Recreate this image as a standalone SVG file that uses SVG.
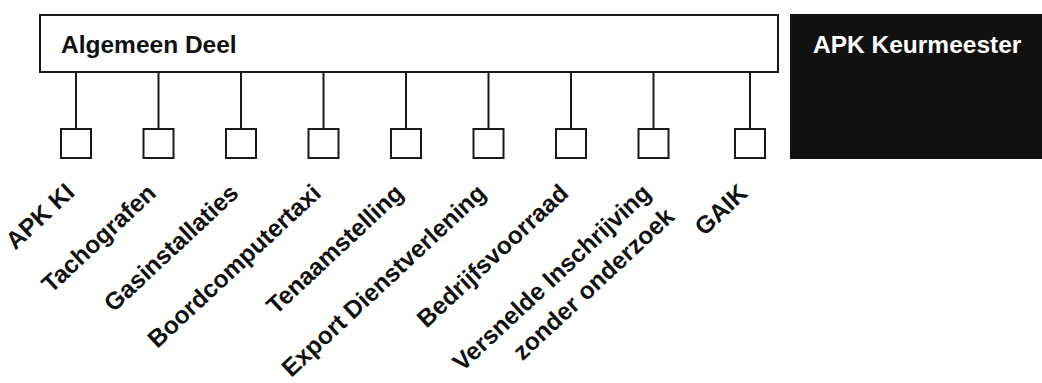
<svg xmlns="http://www.w3.org/2000/svg" width="1042" height="383" viewBox="0 0 1042 383">
<style>
.box{fill:#fff;stroke:#1a1a1a;stroke-width:2}
.dark{fill:#111;stroke:#111;stroke-width:2}
.conn line{stroke:#1a1a1a;stroke-width:2}
.sq{fill:#fff;stroke:#1a1a1a;stroke-width:2}
.hd{font-family:"Liberation Sans",Arial,sans-serif;font-weight:bold;font-size:24.5px}
.lb{font-family:"Liberation Sans",Arial,sans-serif;font-weight:bold;font-size:24.5px;fill:#111;text-anchor:end}
</style>
<rect width="1042" height="383" fill="#fff"/>
<g id="algemeen-deel">
<rect class="box" x="40" y="15" width="738" height="57"/>
<text class="hd" x="61" y="53" fill="#111">Algemeen Deel</text>
</g>
<g id="apk-keurmeester">
<rect class="dark" x="791" y="15" width="252" height="143"/>
<text class="hd" x="813" y="53" fill="#fff">APK Keurmeester</text>
</g>
<g id="connectors" class="conn">
<line x1="76" y1="72" x2="76" y2="129"/>
<line x1="158.5" y1="72" x2="158.5" y2="129"/>
<line x1="241" y1="72" x2="241" y2="129"/>
<line x1="323.5" y1="72" x2="323.5" y2="129"/>
<line x1="406" y1="72" x2="406" y2="129"/>
<line x1="488.5" y1="72" x2="488.5" y2="129"/>
<line x1="571" y1="72" x2="571" y2="129"/>
<line x1="653.5" y1="72" x2="653.5" y2="129"/>
<line x1="750" y1="72" x2="750" y2="129"/>
</g>
<g id="apk-ki"><rect class="sq" x="61" y="129" width="30" height="29"/><text class="lb" transform="translate(76,194) rotate(-43)">APK KI</text></g>
<g id="tachografen"><rect class="sq" x="143.5" y="129" width="30" height="29"/><text class="lb" transform="translate(157.5,195) rotate(-43)">Tachografen</text></g>
<g id="gasinstallaties"><rect class="sq" x="226" y="129" width="30" height="29"/><text class="lb" transform="translate(240,195) rotate(-43)">Gasinstallaties</text></g>
<g id="boordcomputertaxi"><rect class="sq" x="308.5" y="129" width="30" height="29"/><text class="lb" transform="translate(322.5,195) rotate(-43)">Boordcomputertaxi</text></g>
<g id="tenaamstelling"><rect class="sq" x="391" y="129" width="30" height="29"/><text class="lb" transform="translate(405,195) rotate(-43)">Tenaamstelling</text></g>
<g id="export-dienstverlening"><rect class="sq" x="473.5" y="129" width="30" height="29"/><text class="lb" transform="translate(487.5,195) rotate(-43)">Export Dienstverlening</text></g>
<g id="bedrijfsvoorraad"><rect class="sq" x="556" y="129" width="30" height="29"/><text class="lb" transform="translate(570,195) rotate(-43)">Bedrijfsvoorraad</text></g>
<g id="versnelde-inschrijving"><rect class="sq" x="638.5" y="129" width="30" height="29"/><text class="lb" transform="translate(652.5,195) rotate(-43)"><tspan x="0" y="0">Versnelde Inschrijving</tspan><tspan x="1" y="33">zonder onderzoek</tspan></text></g>
<g id="gaik"><rect class="sq" x="735" y="129" width="30" height="29"/><text class="lb" transform="translate(749,195) rotate(-43)">GAIK</text></g>
</svg>
